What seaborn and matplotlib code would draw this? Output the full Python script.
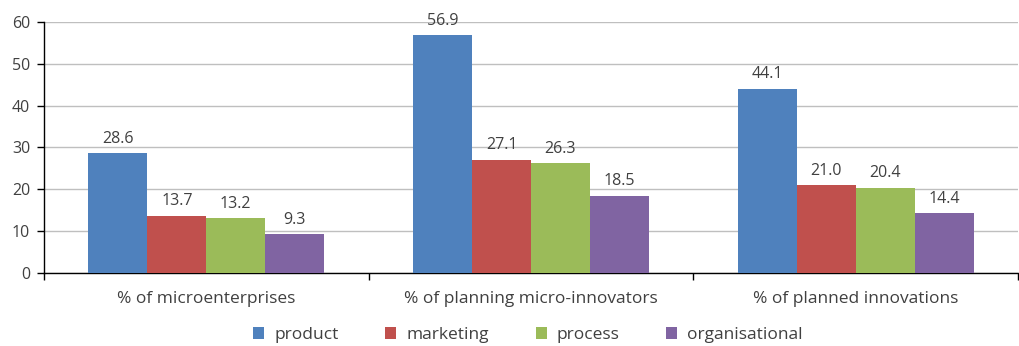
import matplotlib
matplotlib.use("Agg")
import matplotlib.pyplot as plt
import seaborn as sns
import pandas as pd
import numpy as np

categories = ["% of microenterprises", "% of planning micro-innovators", "% of planned innovations"]
series_names = ["product", "marketing", "process", "organisational"]
product = [28.6, 56.9, 44.1]
marketing = [13.7, 27.1, 21.0]
process = [13.2, 26.3, 20.4]
organisational = [9.3, 18.5, 14.4]
y_ticks = [0, 10, 20, 30, 40, 50, 60]

colors = ["#4F81BD", "#C0504D", "#9BBB59", "#8064A2"]
text_color = "#404040"

sns.set_theme(style="white")
plt.rcParams["font.family"] = ["Open Sans", "DejaVu Sans"]

rows = []
for name, vals in zip(series_names, [product, marketing, process, organisational]):
    for cat, v in zip(categories, vals):
        rows.append({"category": cat, "type": name, "value": v})
df = pd.DataFrame(rows)

fig = plt.figure(figsize=(10.19, 3.46), dpi=100)
ax = fig.add_axes([44 / 1019, 1 - 273 / 346, (1018 - 44) / 1019, (273 - 22) / 346])

sns.barplot(data=df, x="category", y="value", hue="type", order=categories,
            hue_order=series_names, palette=colors, saturation=1, width=0.726,
            gap=0, linewidth=0, errorbar=None, ax=ax, legend=True, zorder=3)

for cont in ax.containers:
    ax.bar_label(cont, fmt="%.1f", padding=4.5, fontsize=11.5, color=text_color)

ax.set_ylim(0, 60)
ax.set_xlim(-0.5, 2.5)
ax.set_yticks(y_ticks)
ax.yaxis.grid(True, color="#BFBFBF", linewidth=1.0, zorder=0)
ax.set_axisbelow(True)
ax.set_xlabel("")
ax.set_ylabel("")

for s in ["top", "right"]:
    ax.spines[s].set_visible(False)
for s in ["left", "bottom"]:
    ax.spines[s].set_color("#000000")
    ax.spines[s].set_linewidth(1.0)

ax.tick_params(axis="y", which="major", direction="out", length=5, width=1,
               color="#000000", labelsize=11.5, labelcolor=text_color, pad=5, left=True)
ax.tick_params(axis="x", which="major", length=0, labelsize=12.5,
               labelcolor=text_color, pad=13)
ax.set_xticks([-0.5, 0.5, 1.5, 2.5], minor=True)
ax.tick_params(axis="x", which="minor", direction="out", length=5, width=1,
               color="#000000", bottom=True)

handles, labels = ax.get_legend_handles_labels()
ax.get_legend().remove()
fig.legend(handles, labels, loc="center", bbox_to_anchor=(528 / 1019, 1 - 335 / 346),
           ncol=4, frameon=False, fontsize=12.5, labelcolor=text_color,
           handlelength=0.63, handleheight=0.63, handletextpad=0.57,
           columnspacing=2.7)

fig.savefig("out.png", dpi=100)
